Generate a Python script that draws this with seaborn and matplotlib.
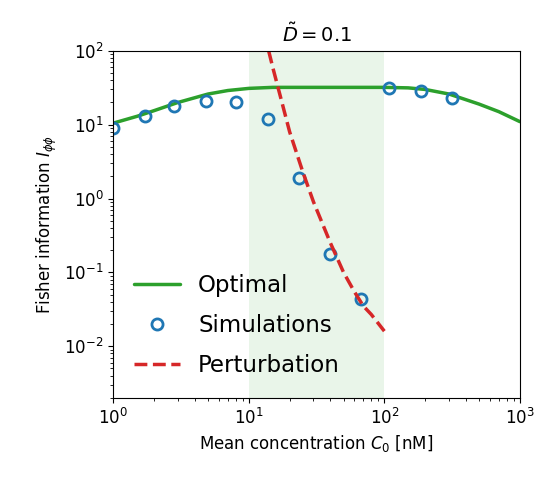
import matplotlib
matplotlib.use("Agg")
import matplotlib.pyplot as plt
import seaborn as sns

opt_x = [1, 1.5, 2, 3, 5, 7, 10, 15, 20, 50, 100, 150, 200, 300, 500, 700, 1000]
opt_y = [10.5, 13, 15.5, 20, 26, 29, 31, 32, 32, 32, 32, 31.5, 30, 26, 19, 15, 11]

sim_x = [1, 1.7, 2.8, 4.8, 8.1, 13.8, 23.4, 39.8, 67, 108, 185, 315]
sim_y = [9, 13, 18, 21, 20, 12, 1.9, 0.18, 0.044, 31, 29, 23]

pert_x = [14, 15, 17, 20, 25, 30, 40, 50, 60, 70, 80, 100]
pert_y = [100, 60, 25, 8, 2.3, 0.9, 0.25, 0.1, 0.055, 0.035, 0.027, 0.016]

sns.set_style("ticks")
plt.rcParams["font.family"] = ["DejaVu Sans"]
plt.rcParams.update({"text.color": "black", "axes.labelcolor": "black",
                     "xtick.color": "black", "ytick.color": "black",
                     "axes.edgecolor": "black"})

fig, ax = plt.subplots(figsize=(5.53, 4.84), dpi=100)
fig.subplots_adjust(left=0.205, right=0.94, top=0.895, bottom=0.178)

ax.axvspan(10, 100, color="#2ca02c", alpha=0.1, lw=0)
sns.lineplot(x=opt_x, y=opt_y, color="#2ca02c", lw=2.5, label="Optimal", ax=ax)
ax.plot(sim_x, sim_y, "o", mfc="none", mec="#1f77b4", mew=2, ms=8,
        label="Simulations")
sns.lineplot(x=pert_x, y=pert_y, color="#d62728", lw=2.5, ls="--",
             label="Perturbation", ax=ax)

ax.set_xscale("log")
ax.set_yscale("log")
ax.set_xlim(1, 1000)
ax.set_ylim(2e-3, 100)
ax.tick_params(labelsize=12, colors="black")
ax.set_xlabel("Mean concentration $C_0$ [nM]", fontsize=12)
ax.set_ylabel(r"Fisher information $I_{\phi\phi}$", fontsize=12)
ax.set_title(r"$\tilde{D} = 0.1$", fontsize=14)
ax.legend(loc="lower left", fontsize=16.5, frameon=False, labelspacing=0.75,
          bbox_to_anchor=(0.0, 0.0))

fig.savefig("out.png", dpi=100)
